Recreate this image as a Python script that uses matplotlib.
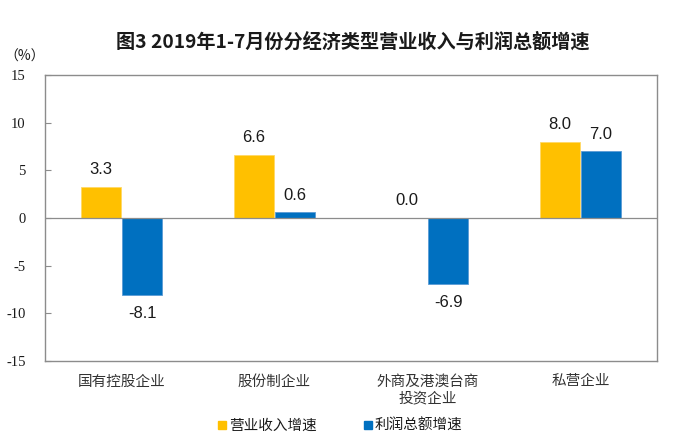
import matplotlib
matplotlib.use("Agg")
import matplotlib.pyplot as plt
from matplotlib.lines import Line2D
from matplotlib.font_manager import FontProperties
import numpy as np

plt.rcParams['font.family'] = ['Noto Sans CJK SC', 'DejaVu Sans']

categories = ["国有控股企业", "股份制企业", "外商及港澳台商\n投资企业", "私营企业"]
revenue = [3.3, 6.6, 0.0, 8.0]
profit = [-8.1, 0.6, -6.9, 7.0]
series_names = ["营业收入增速", "利润总额增速"]
yticks = [-15, -10, -5, 0, 5, 10, 15]
title = "图3 2019年1-7月份分经济类型营业收入与利润总额增速"

gold = "#FFC000"
blue = "#0070C0"
frame = "#8C8C8C"

serif = FontProperties(family="Liberation Serif", size=10.5)

fig = plt.figure(figsize=(6.8, 4.45), dpi=100)
ax = fig.add_axes([0.0662, 0.1888, 0.8998, 0.6427])

x = np.arange(len(categories))
w = 0.262
off = 0.135
b1 = ax.bar(x - off, revenue, w, color=gold, edgecolor="#FFD966", linewidth=0.6)
b2 = ax.bar(x + off, profit, w, color=blue, edgecolor="#5B9BD5", linewidth=0.6)

for bars, vals in ((b1, revenue), (b2, profit)):
    for rect, v in zip(bars, vals):
        cx = rect.get_x() + rect.get_width() / 2
        if v >= 0:
            ax.annotate(f"{v:.1f}", (cx, v), xytext=(0, 7), textcoords="offset points",
                        ha="center", va="bottom", fontsize=12,
                        family=["Liberation Sans", "DejaVu Sans"], color="#1a1a1a")
        else:
            ax.annotate(f"{v:.1f}", (cx, v), xytext=(0, -8), textcoords="offset points",
                        ha="center", va="top", fontsize=12,
                        family=["Liberation Sans", "DejaVu Sans"], color="#1a1a1a")

ax.set_xlim(-0.5, len(categories) - 0.5)
ax.set_ylim(-15, 15)
ax.set_yticks(yticks)
ax.set_yticklabels([str(t) for t in yticks])
for lab in ax.get_yticklabels():
    lab.set_fontproperties(serif)
    lab.set_color("#1a1a1a")
ax.tick_params(axis="y", direction="in", length=4, width=0.8, color=frame, pad=14)
ax.set_xticks([])
ax.axhline(0, color=frame, linewidth=0.9)
for s in ax.spines.values():
    s.set_color(frame)
    s.set_linewidth(1.0)

for i, c in enumerate(categories):
    ax.text(i, -16.4, c, ha="center", va="top", fontsize=10.5, color="#333333",
            linespacing=1.25)

fig.text(25 / 680, 1 - 57 / 445, "（%）", ha="center", va="center", fontsize=10,
         color="#1a1a1a")
fig.text(353 / 680, 1 - 42 / 445, title, ha="center", va="center", fontsize=13.8,
         fontweight="bold", color="#1a1a1a")

handles = [Line2D([], [], marker="s", linestyle="none", color=gold, markersize=6),
           Line2D([], [], marker="s", linestyle="none", color=blue, markersize=6)]
fig.legend(handles, series_names, loc="center", bbox_to_anchor=(340 / 680, 1 - 426 / 445),
           ncol=2, frameon=False, fontsize=10.5, handlelength=0.6, handletextpad=0.2,
           columnspacing=3.2, labelcolor="#1a1a1a")

fig.savefig("out.png", dpi=100)
